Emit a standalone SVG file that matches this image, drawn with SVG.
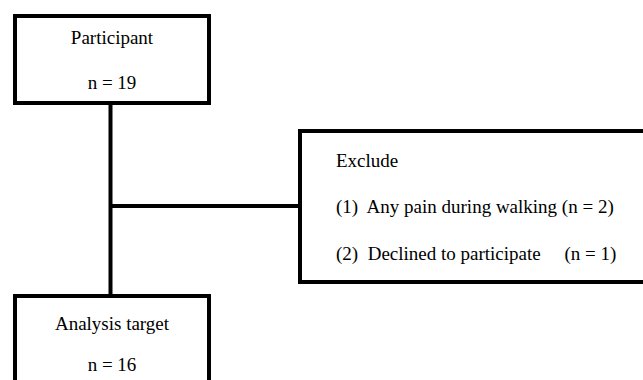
<svg xmlns="http://www.w3.org/2000/svg" width="643" height="380" viewBox="0 0 643 380">
<style>
.box{fill:#fff;stroke:#000;stroke-width:4}
.ln{stroke:#000;stroke-width:4;fill:none}
.t{font-family:'Liberation Serif','Times New Roman','DejaVu Serif',serif;font-size:19px;fill:#000}
.c{text-anchor:middle}
</style>
<rect width="643" height="380" fill="#fff"/>
<g id="connectors">
<line class="ln" x1="110.5" y1="103" x2="110.5" y2="296"/>
<line class="ln" x1="110.5" y1="206" x2="300" y2="206"/>
</g>
<g id="participant">
<rect class="box" x="15" y="16" width="194" height="87"/>
<text class="t c" x="112" y="44" font-family="Liberation Serif">Participant</text>
<text class="t c" x="112" y="89" font-family="Liberation Serif">n = 19</text>
</g>
<g id="exclude">
<rect class="box" x="300" y="131" width="360" height="151"/>
<text class="t" x="336" y="167" font-family="Liberation Serif">Exclude</text>
<text class="t" x="336" y="213" font-family="Liberation Serif" xml:space="preserve">(1)  Any pain during walking (n = 2)</text>
<text class="t" x="336" y="260" font-family="Liberation Serif" xml:space="preserve">(2)  Declined to participate     (n = 1)</text>
</g>
<g id="analysis">
<rect class="box" x="15" y="296" width="194" height="110"/>
<text class="t c" x="112" y="330" font-family="Liberation Serif">Analysis target</text>
<text class="t c" x="112" y="371" font-family="Liberation Serif">n = 16</text>
</g>
</svg>
